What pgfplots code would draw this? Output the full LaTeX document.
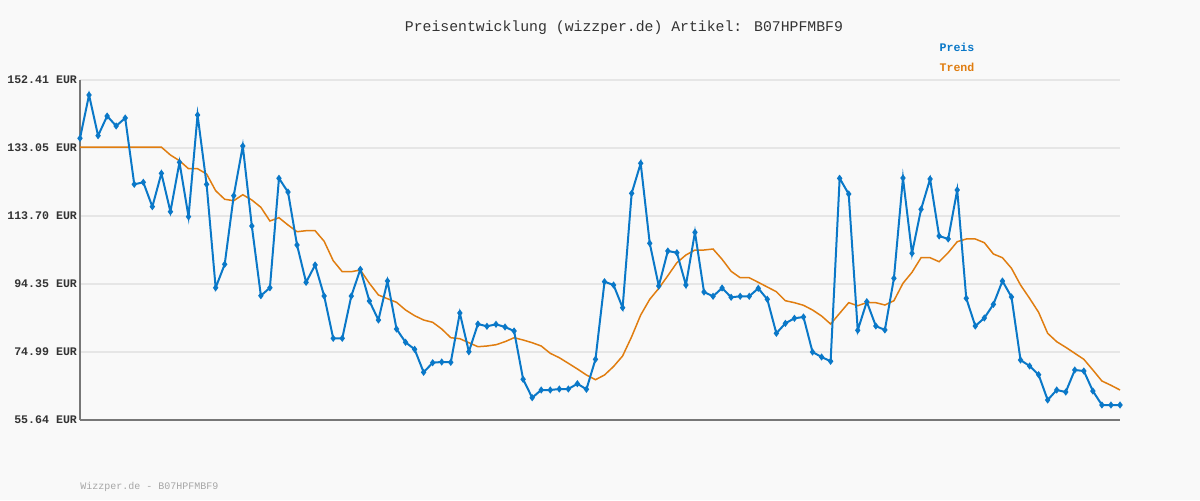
\documentclass[border=0pt]{standalone}
\usepackage{pgfplots}
\pgfplotsset{compat=1.18}
\usepackage{pgfplotstable}
\usepackage{fontspec}
\setmainfont{Liberation Mono}
\setmonofont{Liberation Mono}
\definecolor{bg}{HTML}{F9F9F9}
\definecolor{preis}{HTML}{0A78C8}
\definecolor{trend}{HTML}{E07D10}
\definecolor{gridc}{HTML}{E6E6E6}
\definecolor{axisc}{HTML}{777777}
\definecolor{txt}{HTML}{333333}

\pgfplotstableread{
x y
0 135.82
1 148.14
2 136.56
3 142.16
4 139.32
5 141.59
6 122.72
7 123.29
8 116.35
9 125.85
10 114.93
11 128.99
12 113.50
13 142.45
14 122.72
15 93.29
16 99.95
17 119.48
18 133.63
19 110.86
20 91.02
21 93.29
22 124.43
23 120.53
24 105.45
25 94.83
26 99.76
27 90.93
28 78.89
29 78.89
30 90.93
31 98.53
32 89.51
33 84.10
34 95.20
35 81.54
36 77.75
37 75.76
38 69.22
39 71.95
40 72.15
41 72.06
42 86.09
43 75.08
44 82.96
45 82.31
46 82.88
47 82.11
48 80.97
49 67.22
50 61.99
51 64.18
52 64.18
53 64.46
54 64.46
55 65.97
56 64.38
57 72.92
58 95.00
59 94.06
60 87.60
61 120.16
62 128.70
63 105.93
64 93.78
65 103.74
66 103.26
67 94.06
68 109.06
69 92.07
70 90.85
71 93.21
72 90.56
73 90.85
74 90.85
75 93.12
76 89.99
77 80.32
78 83.16
79 84.59
80 84.96
81 74.99
82 73.57
83 72.35
84 124.43
85 119.96
86 81.17
87 89.31
88 82.39
89 81.26
90 95.97
91 124.52
92 103.09
93 115.61
94 124.23
95 108.01
96 107.16
97 121.10
98 90.28
99 82.39
100 84.67
101 88.57
102 95.20
103 90.65
104 72.72
105 71.01
106 68.53
107 61.33
108 64.18
109 63.61
110 69.87
111 69.59
112 63.89
113 59.91
114 59.91
115 59.91
}\preistable

\pgfplotstableread{
x y
0 133.30
1 133.30
2 133.30
3 133.30
4 133.30
5 133.30
6 133.30
7 133.30
8 133.30
9 133.30
10 131.06
11 129.44
12 127.16
13 127.16
14 125.66
15 120.90
16 118.46
17 118.06
18 119.76
19 118.26
20 116.18
21 112.28
22 113.22
23 111.14
24 109.23
25 109.52
26 109.52
27 106.50
28 100.98
29 97.85
30 97.85
31 98.33
32 94.55
33 91.22
34 90.16
35 89.14
36 86.95
37 85.33
38 84.10
39 83.45
40 81.54
41 79.06
42 78.78
43 77.64
44 76.50
45 76.70
46 77.07
47 77.93
48 79.06
49 78.41
50 77.64
51 76.70
52 74.62
53 73.37
54 71.78
55 70.16
56 68.45
57 67.11
58 68.45
59 70.87
60 73.86
61 79.35
62 85.52
63 89.99
64 93.12
65 96.71
66 100.41
67 102.60
68 104.02
69 104.02
70 104.31
71 101.38
72 97.96
73 96.14
74 96.14
75 94.83
76 93.49
77 92.16
78 89.59
79 89.03
80 88.29
81 86.95
82 85.24
83 82.96
84 86.01
85 89.03
86 88.17
87 89.03
88 89.03
89 88.37
90 89.59
91 94.55
92 97.68
93 101.83
94 101.83
95 100.69
96 103.26
97 106.39
98 107.16
99 107.16
100 106.10
101 102.89
102 101.83
103 98.82
104 94.06
105 90.28
106 86.29
107 80.32
108 77.93
109 76.33
110 74.62
111 72.92
112 69.87
113 66.74
114 65.52
115 64.18
}\trendtable

\begin{document}
\begin{tikzpicture}
\fill[bg] (0,0) rectangle (600pt,250pt);
\useasboundingbox (0,0) rectangle (600pt,250pt);
\begin{axis}[
  at={(40pt,40pt)}, anchor=south west,
  scale only axis, width=520pt, height=170pt,
  xmin=0, xmax=115, ymin=55.64, ymax=152.41,
  axis x line=bottom, axis y line=left,
  axis line style={-, axisc, line width=1pt},
  xtick=\empty,
  ytick={55.64,74.99,94.35,113.70,133.05,152.41},
  yticklabels={55.64 EUR,74.99 EUR,94.35 EUR,113.70 EUR,133.05 EUR,152.41 EUR},
  yticklabel style={font=\fontsize{5.8}{6}\selectfont\bfseries, text=txt, xshift=2pt},
  major tick length=0pt,
  ymajorgrids, grid style={gridc, line width=1pt},
  clip=false,
]
\addplot[trend, line width=0.75pt, no markers] table[x=x,y=y] {\trendtable};
\addplot[preis, line width=1pt, mark=diamond*, mark size=1pt] table[x=x,y=y] {\preistable};
\end{axis}
\node[text=txt, font=\fontsize{7.4}{9}\selectfont] at (312pt,236pt) {Preisentwicklung (wizzper.de) Artikel: B07HPFMBF9};
\node[text=preis, font=\fontsize{5.8}{7}\selectfont\bfseries] at (478.5pt,226.5pt) {Preis};
\node[text=trend, font=\fontsize{5.8}{7}\selectfont\bfseries] at (478.5pt,216.5pt) {Trend};
\node[text=black!35, anchor=west, inner sep=0pt, font=\fontsize{5}{6}\selectfont] at (40pt,6.5pt) {Wizzper.de - B07HPFMBF9};
\end{tikzpicture}
\end{document}
